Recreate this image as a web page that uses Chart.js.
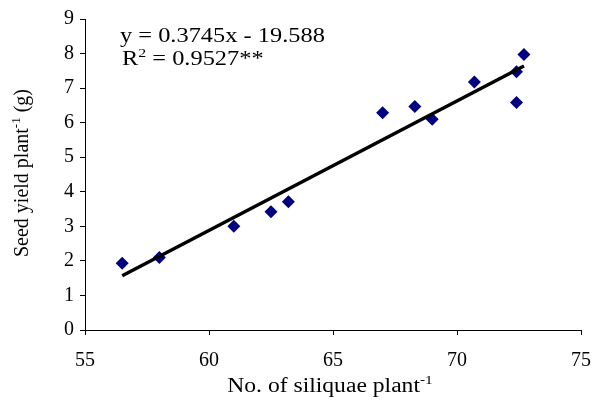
<!DOCTYPE html>
<html>
<head>
<meta charset="utf-8">
<script src="https://cdn.jsdelivr.net/npm/chart.js@4"></script>
<style>
  html, body { margin: 0; padding: 0; background: #fff; }
  #box { width: 592px; height: 410px; }
</style>
</head>
<body>
<div id="box"><canvas id="grafico"></canvas></div>
<script>
// dados
var siliquas = [56.5, 58.0, 61.0, 62.5, 63.2, 67.0, 68.3, 69.0, 70.7, 72.4, 72.4, 72.7];
var rendimento = [1.93, 2.1, 3.0, 3.42, 3.71, 6.29, 6.47, 6.1, 7.18, 7.47, 6.58, 7.97];
var inclinacao = 0.3745;
var intercepto = -19.588;
var ticksX = [55, 60, 65, 70, 75];
var ticksY = [0, 1, 2, 3, 4, 5, 6, 7, 8, 9];

var fonte = 'Liberation Serif, Times New Roman, serif';

var pontos = siliquas.map(function (x, i) { return { x: x, y: rendimento[i] }; });
var xMin = Math.min.apply(null, siliquas);
var xMax = Math.max.apply(null, siliquas);
var reta = [
    { x: xMin, y: inclinacao * xMin + intercepto },
    { x: xMax, y: inclinacao * xMax + intercepto }
];

// desenha texto com expoente (partes: [texto, sobrescrito?]); esticar = escala horizontal
function textoComExpoente(ctx, partes, x, y, tam, alinhar, esticar) {
    var total = 0;
    partes.forEach(function (p) {
        ctx.font = (p[1] ? Math.round(tam * 0.65) : tam) + 'px ' + fonte;
        total += ctx.measureText(p[0]).width;
    });
    ctx.save();
    ctx.translate(x, y);
    ctx.scale(esticar, 1);
    var cx = alinhar === 'center' ? -total / 2 : 0;
    partes.forEach(function (p) {
        ctx.font = (p[1] ? Math.round(tam * 0.65) : tam) + 'px ' + fonte;
        ctx.fillText(p[0], cx, p[1] ? -tam * 0.38 : 0);
        cx += ctx.measureText(p[0]).width;
    });
    ctx.restore();
}

var textos = {
    id: 'textos',
    afterDraw: function (chart) {
        var ctx = chart.ctx;
        ctx.save();
        ctx.fillStyle = '#000';
        ctx.textAlign = 'left';
        ctx.textBaseline = 'alphabetic';
        textoComExpoente(ctx, [['y = 0.3745x - 19.588', false]], 120, 42, 20, 'left', 1.22);
        textoComExpoente(ctx, [['R', false], ['2', true], [' = 0.9527**', false]], 122, 65, 20, 'left', 1.22);
        textoComExpoente(ctx, [['No. of siliquae plant', false], ['-1', true]], 330, 392, 20, 'center', 1.18);
        ctx.translate(28, 173);
        ctx.rotate(-Math.PI / 2);
        textoComExpoente(ctx, [['Seed yield plant', false], ['-1', true], [' (g)', false]], 0, 0, 20, 'center', 1);
        ctx.restore();
    }
};

var ctx = document.getElementById('grafico').getContext('2d');
new Chart(ctx, {
    type: 'scatter',
    data: {
        datasets: [{
            type: 'line',
            data: reta,
            borderColor: '#000',
            borderWidth: 3.5,
            pointRadius: 0,
            fill: false,
            order: 0
        }, {
            data: pontos,
            pointStyle: 'rectRot',
            pointRadius: 6.5,
            pointHoverRadius: 6.5,
            backgroundColor: '#000080',
            borderColor: '#000080',
            borderWidth: 0,
            order: 1
        }]
    },
    options: {
        responsive: true,
        maintainAspectRatio: false,
        animation: false,
        events: [],
        layout: { padding: { top: 19, right: 11, left: 0, bottom: 0 } },
        plugins: { legend: { display: false }, tooltip: { enabled: false } },
        scales: {
            x: {
                type: 'linear',
                min: 55, max: 75,
                afterBuildTicks: function (s) { s.ticks = ticksX.map(function (v) { return { value: v }; }); },
                afterFit: function (s) { s.height = 80; s.paddingRight = 0; s.paddingLeft = 0; },
                grid: { drawOnChartArea: false, drawTicks: true, tickLength: 5, color: '#000' },
                border: { display: true, color: '#000', width: 1 },
                ticks: { color: '#000', padding: 14, maxRotation: 0, font: { family: fonte, size: 20 } }
            },
            y: {
                min: 0, max: 9,
                afterBuildTicks: function (s) { s.ticks = ticksY.map(function (v) { return { value: v }; }); },
                afterFit: function (s) { s.width = 85; s.paddingTop = 0; s.paddingBottom = 0; },
                grid: { drawOnChartArea: false, drawTicks: true, tickLength: 5, color: '#000' },
                border: { display: true, color: '#000', width: 1 },
                ticks: { color: '#000', padding: 6, font: { family: fonte, size: 20 } }
            }
        }
    },
    plugins: [textos]
});
</script>
</body>
</html>
